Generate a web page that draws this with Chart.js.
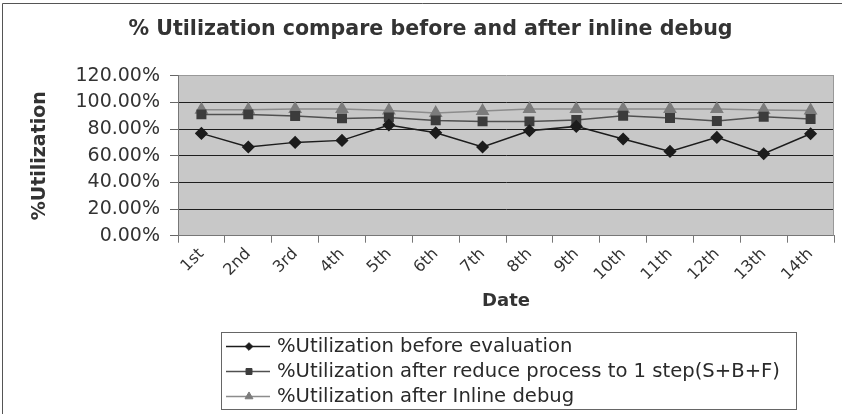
<!DOCTYPE html>
<html>
<head>
<meta charset="utf-8">
<script src="https://cdn.jsdelivr.net/npm/chart.js@4.4.1/dist/chart.umd.min.js"></script>
<style>
html,body{margin:0;padding:0;background:#fff;}
#wrap{width:842px;height:414px;position:relative;}
</style>
</head>
<body>
<div id="wrap"><canvas id="c" width="842" height="414"></canvas></div>
<script>
// ---- data ----
const categories = ['1st','2nd','3rd','4th','5th','6th','7th','8th','9th','10th','11th','12th','13th','14th'];
const seriesNames = [
  '%Utilization before evaluation',
  '%Utilization after reduce process to 1 step(S+B+F)',
  '%Utilization after Inline debug'
];
const beforeEvaluation = [76.75, 66.5, 70, 71.5, 83, 77.25, 66.5, 78.75, 82, 72.5, 63.25, 73.75, 61.5, 76.5];
const afterReduce      = [91, 91, 89.75, 88, 88.75, 86.5, 85.75, 85.75, 86.75, 90, 88.25, 86, 89.25, 87.5];
const afterInline      = [94.5, 94.5, 95, 95, 94, 92, 93.5, 95, 95, 95, 95, 95, 94.25, 94];
const yMin = 0, yMax = 120, yStep = 20;
const chartTitle = '% Utilization compare before and after inline debug';
const xTitle = 'Date';
const yTitle = '%Utilization';

const FONT = "'DejaVu Sans', 'Liberation Sans', Arial, sans-serif";
Chart.defaults.font.family = FONT;
Chart.defaults.color = '#333';

const decor = {
  id: 'decor',
  beforeDraw(chart) {
    const {ctx, chartArea: a} = chart;
    ctx.save();
    ctx.fillStyle = '#c8c8c8';
    ctx.fillRect(a.left, a.top, a.right - a.left, a.bottom - a.top);
    ctx.restore();
  },
  beforeDatasetsDraw(chart) {
    const {ctx, chartArea: a} = chart;
    ctx.save();
    ctx.strokeStyle = '#999';
    ctx.lineWidth = 1;
    ctx.beginPath();
    ctx.moveTo(Math.round(a.right) - 0.5, a.top);
    ctx.lineTo(Math.round(a.right) - 0.5, a.bottom);
    ctx.stroke();
    ctx.restore();
  },
  afterDraw(chart) {
    const {ctx} = chart;
    ctx.save();
    // outer frame
    ctx.strokeStyle = '#555';
    ctx.lineWidth = 1;
    ctx.beginPath();
    ctx.moveTo(2.5, 414);
    ctx.lineTo(2.5, 3.5);
    ctx.lineTo(842, 3.5);
    ctx.stroke();
    // legend box
    ctx.strokeStyle = '#666';
    ctx.strokeRect(221.5, 332.5, 575, 77);
    ctx.font = "19.6px " + FONT;
    ctx.textBaseline = 'middle';
    ctx.textAlign = 'left';
    chart.data.datasets.forEach((ds, i) => {
      const y = 346.5 + i * 25;
      ctx.strokeStyle = ds.borderColor;
      ctx.lineWidth = 1.5;
      ctx.beginPath();
      ctx.moveTo(226, y);
      ctx.lineTo(270, y);
      ctx.stroke();
      ctx.fillStyle = ds.pointBackgroundColor;
      ctx.strokeStyle = ds.pointBackgroundColor;
      ctx.lineWidth = 1;
      Chart.helpers.drawPoint(ctx, {pointStyle: ds.pointStyle, radius: ds.pointRadius * 0.7, rotation: 0, borderWidth: 1}, 249, y);
      ctx.fillStyle = '#2a2a2a';
      ctx.fillText(ds.label, 277, y);
    });
    ctx.restore();
  }
};

new Chart(document.getElementById('c'), {
  type: 'line',
  data: {
    labels: categories,
    datasets: [
      {label: seriesNames[0], data: beforeEvaluation, borderColor: '#1c1c1c', backgroundColor: '#1c1c1c',
       pointBackgroundColor: '#1c1c1c', pointBorderColor: '#1c1c1c', pointStyle: 'rectRot', pointRadius: 5.5, borderWidth: 1.5},
      {label: seriesNames[1], data: afterReduce, borderColor: '#505050', backgroundColor: '#3c3c3c',
       pointBackgroundColor: '#3c3c3c', pointBorderColor: '#3c3c3c', pointStyle: 'rect', pointRadius: 6, borderWidth: 1.5},
      {label: seriesNames[2], data: afterInline, borderColor: '#8c8c8c', backgroundColor: '#7c7c7c',
       pointBackgroundColor: '#7c7c7c', pointBorderColor: '#7c7c7c', pointStyle: 'triangle', pointRadius: 6.5, borderWidth: 1.5}
    ]
  },
  options: {
    responsive: false,
    animation: false,
    devicePixelRatio: 1,
    events: [],
    layout: {padding: {left: 20, right: 1, top: 0, bottom: 102}},
    plugins: {
      legend: {display: false},
      tooltip: {enabled: false},
      title: {
        display: true, text: chartTitle, color: '#333',
        font: {size: 20.6, weight: 'bold', family: FONT},
        padding: {top: 17, bottom: 34}
      }
    },
    scales: {
      x: {
        offset: true,
        grid: {offset: true, drawOnChartArea: false, drawTicks: true, tickLength: 7, color: '#777', tickColor: '#777'},
        border: {display: true, color: '#777', width: 1},
        ticks: {autoSkip: false, minRotation: 45, maxRotation: 45, padding: 2, color: '#333', font: {size: 16}},
        title: {display: true, text: xTitle, color: '#333', font: {size: 18, weight: 'bold'}, padding: {top: 1.2, bottom: 0}},
        afterFit(scale) { scale.height = 76.3; scale.paddingLeft = 0; scale.paddingRight = 0; }
      },
      y: {
        min: yMin, max: yMax,
        grid: {
          color: (c) => (c.tick && c.tick.value === yMax) ? '#999' : '#1e1e1e',
          tickColor: '#666', tickLength: 8, lineWidth: 1
        },
        border: {display: true, color: '#777', width: 1},
        ticks: {stepSize: yStep, padding: 10, color: '#333', font: {size: 19},
                callback: (v) => v.toFixed(2) + '%'},
        title: {display: true, text: yTitle, color: '#333', font: {size: 19, weight: 'bold'}, padding: {top: 8.6, bottom: 0}},
        afterFit(scale) { scale.width = 158; }
      }
    }
  },
  plugins: [decor]
});
</script>
</body>
</html>
